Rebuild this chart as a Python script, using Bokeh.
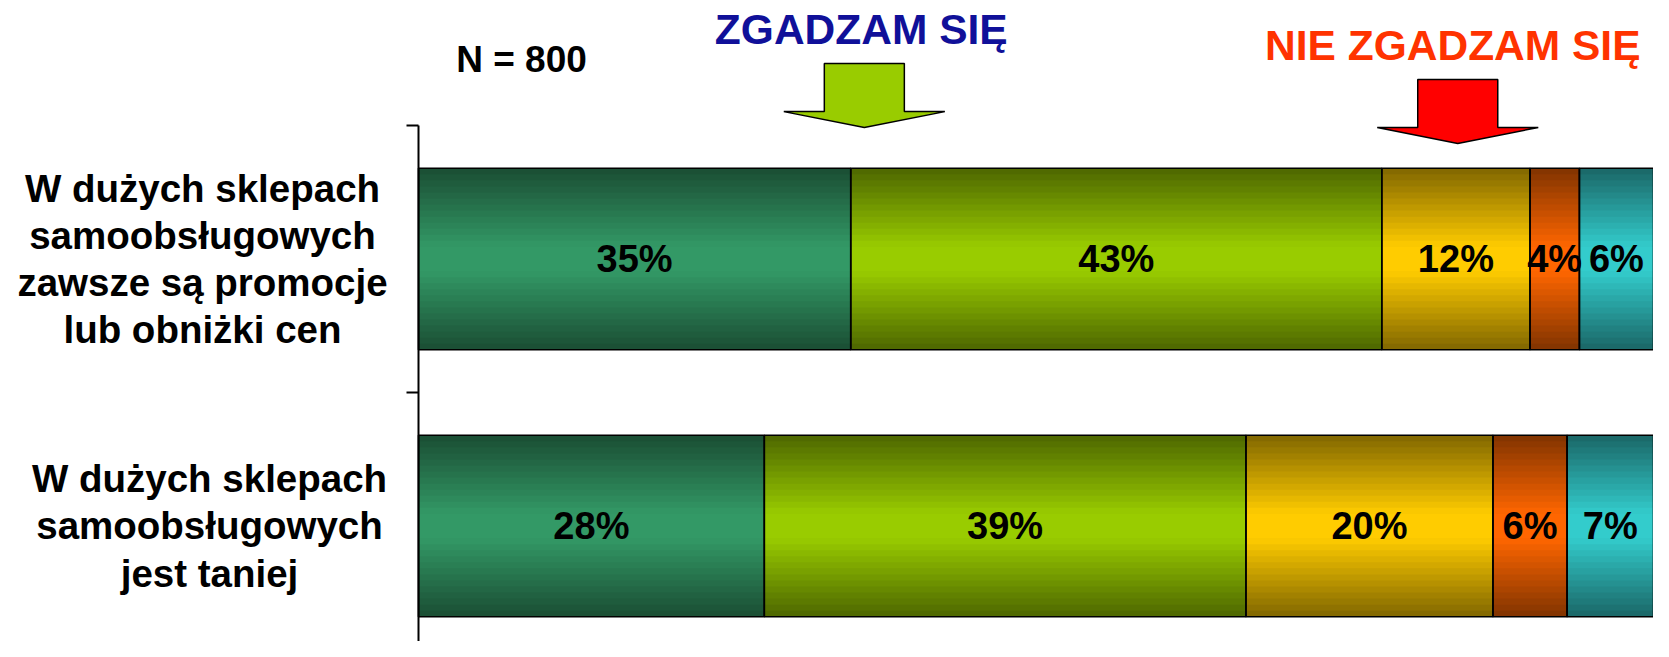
import numpy as np
from bokeh.plotting import figure
from bokeh.models import ColumnDataSource, Range1d, FixedTicker, LinearAxis
from bokeh.core.properties import value
from bokeh.embed import file_html
from bokeh.resources import INLINE

# ---------------- data ----------------
categories = [
    "W dużych sklepach\nsamoobsługowych\nzawsze są promocje\nlub obniżki cen",
    "W dużych sklepach\nsamoobsługowych\njest taniej",
]
answers = ["zdecydowanie tak", "raczej tak", "raczej nie", "zdecydowanie nie", "trudno powiedzieć"]
values_promocje = [35, 43, 12, 4, 6]
values_taniej = [28, 39, 20, 6, 7]
light_colors = ["#339966", "#99cc00", "#ffcc00", "#ff6600", "#33cccc"]
dark_colors = ["#1a4d33", "#4d6600", "#806600", "#803300", "#1a6666"]
n_label = "N = 800"
agree_label = "ZGADZAM SIĘ"
disagree_label = "NIE ZGADZAM SIĘ"

rows = [values_promocje, values_taniej]
ypos = [len(rows) - 1 - i for i in range(len(rows))]

# ---------------- layout constants ----------------
BAR_H = 0.68
N_STRIPES = 30
FONT = value("Liberation Sans")


def mix(c1, c2, t):
    a = [int(c1[i:i + 2], 16) for i in (1, 3, 5)]
    b = [int(c2[i:i + 2], 16) for i in (1, 3, 5)]
    return "#%02x%02x%02x" % tuple(int(round(a[k] + (b[k] - a[k]) * t)) for k in range(3))


p = figure(width=1653, height=641, output_backend="svg", toolbar_location=None,
           x_range=Range1d(-32.874, 100), y_range=Range1d(-0.4326, 1.9682),
           x_axis_location=None, y_axis_location=None,
           min_border_left=12, min_border_right=0,
           min_border_top=0, min_border_bottom=0, outline_line_color=None)
p.grid.grid_line_color = None
p.background_fill_color = "white"

# gradient stripes
st = dict(left=[], right=[], top=[], bottom=[], color=[])
step = BAR_H / N_STRIPES
for i, vals in enumerate(rows):
    cum = 0
    top0 = ypos[i] + BAR_H / 2
    bot0 = ypos[i] - BAR_H / 2
    for j, v in enumerate(vals):
        for k in range(N_STRIPES):
            u = (k + 0.5) / N_STRIPES
            t = min(1.0, (1 - abs(2 * u - 1)) * 1.15)
            top = top0 - k * step
            st["left"].append(cum)
            st["right"].append(cum + v)
            st["top"].append(top)
            st["bottom"].append(max(bot0, top - 1.5 * step))
            st["color"].append(mix(dark_colors[j], light_colors[j], t))
        cum += v
p.quad(left="left", right="right", top="top", bottom="bottom", fill_color="color",
       line_color=None, source=ColumnDataSource(st))

# outlines + value labels
ol = dict(y=[], left=[], right=[], xc=[], txt=[])
for i, vals in enumerate(rows):
    cum = 0
    for v in vals:
        ol["y"].append(ypos[i])
        ol["left"].append(cum)
        ol["right"].append(cum + v)
        ol["xc"].append(cum + v / 2)
        ol["txt"].append(f"{v}%")
        cum += v
src = ColumnDataSource(ol)
p.hbar(y="y", left="left", right="right", height=BAR_H, fill_color=None,
       line_color="black", line_width=1.6, source=src)
p.text(x="xc", y="y", text="txt", text_align="center", text_baseline="middle",
       text_font=FONT, text_font_style="bold", text_font_size="38px",
       text_color="black", source=src)

# arrows (decorative)
arrows = [(36.1, "#99cc00", 1.732, 1.552, 1.4925), (84.15, "#ff0000", 1.672, 1.4925, 1.4326)]
xs, ys, fc = [], [], []
for xc, col, top, base, tip in arrows:
    sw, hw = 3.24, 6.52
    xs.append([xc - sw, xc + sw, xc + sw, xc + hw, xc, xc - hw, xc - sw])
    ys.append([top, top, base, base, tip, base, base])
    fc.append(col)
p.patches(xs=xs, ys=ys, fill_color=fc, line_color="black", line_width=1.5)

# header texts
p.text(x=[3.05], y=[1.749], text=[n_label], text_align="left", text_baseline="middle",
       text_font=FONT, text_font_style="bold", text_font_size="37px", text_color="black")
p.text(x=[35.85], y=[1.8614], text=[agree_label], text_align="center", text_baseline="middle",
       text_font=FONT, text_font_style="bold", text_font_size="42.5px", text_color="#101099")
p.text(x=[83.75], y=[1.7996], text=[disagree_label], text_align="center", text_baseline="middle",
       text_font=FONT, text_font_style="bold", text_font_size="42.5px", text_color="#ff3300")

# category labels (centred lines, left of the axis)
label_x = [-17.49, -16.92]
p.text(x=label_x, y=ypos, text=categories, text_align="center", text_baseline="middle",
       text_font=FONT, text_font_style="bold", text_font_size="38.5px",
       text_color="black", text_line_height=1.1)

# y axis at x = 0: line + tick marks between categories
boundaries = [1.5, 0.5, -0.5]
ax = LinearAxis(fixed_location=0)
ax.ticker = FixedTicker(ticks=[], minor_ticks=boundaries)
ax.bounds = (-0.5, 1.5)
ax.axis_line_color = "black"
ax.axis_line_width = 2
ax.major_tick_line_color = None
ax.major_label_text_font_size = "0px"
ax.major_label_standoff = 0
ax.major_tick_out = 0
ax.major_tick_in = 0
ax.minor_tick_out = 12
ax.minor_tick_in = 0
ax.minor_tick_line_color = "black"
ax.minor_tick_line_width = 2
p.add_layout(ax, "left")

open("out.html", "w").write(file_html(p, INLINE))
